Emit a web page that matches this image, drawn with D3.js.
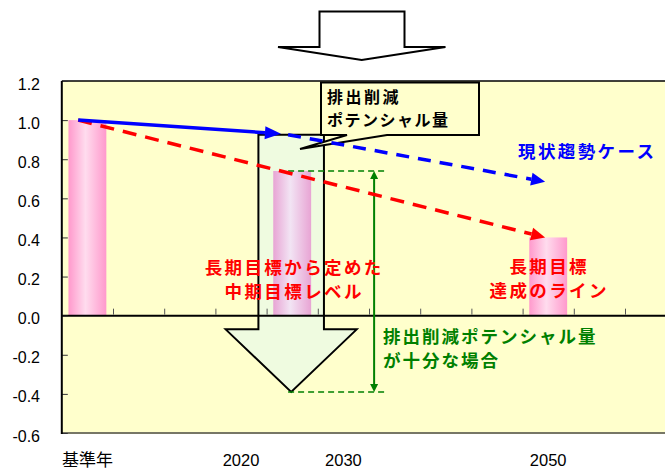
<!DOCTYPE html>
<html><head><meta charset="utf-8">
<script src="https://cdn.jsdelivr.net/npm/d3@7"></script>
<style>body{margin:0;background:#fff}</style>
</head><body><svg id="c" width="665" height="471"></svg>
<script>
// ---- data ----
const slotLabels = ["基準年","","","2020","","2030","","","","2050","",""];
const barSlots = [0, 4, 9];
const barValues = [1.0, 0.74, 0.40];
const yTicks = [-0.6,-0.4,-0.2,0.0,0.2,0.4,0.6,0.8,1.0,1.2];
// 現状趨勢ケース (solid part then dashed part): slot position / value
const trendSolidPos = [0.32, 4.28];
const trendSolidVal = [1.0, 0.93];
const trendDashPos = [4.42, 9.44];
const trendDashVal = [0.925, 0.685];
// 長期目標達成のライン
const targetPos = [0.32, 9.44];
const targetVal = [1.0, 0.40];
// 排出削減ポテンシャル量 arrow
const potentialPos = 4.48;
const potentialTop = 0.925, potentialHeadBase = -0.07, potentialTip = -0.39;
const midTargetVal = 0.74;

const svg = d3.select("#c");
const W = 665, H = 471;
const pLeft = 61.8, pTop = 81, pBottom = 433, slotW = 51.2;
const x = d3.scaleLinear().domain([0, slotLabels.length]).range([pLeft, pLeft + slotLabels.length*slotW]);
const y = d3.scaleLinear().domain([-0.6, 1.2]).range([pBottom, pTop]);

const defs = svg.append("defs");
function grad(id, edge, mid){
  const g = defs.append("linearGradient").attr("id", id).attr("x1","0").attr("x2","1").attr("y1","0").attr("y2","0");
  g.append("stop").attr("offset","0").attr("stop-color", edge);
  g.append("stop").attr("offset","0.45").attr("stop-color", mid);
  g.append("stop").attr("offset","1").attr("stop-color", edge);
}
grad("pink", "#ff99cc", "#ffdcee");
grad("pinkMuted", "#e8a4d4", "#f2e4f4");
defs.append("clipPath").attr("id","clip").append("rect").attr("x",pLeft).attr("y",pTop-2).attr("width",W-pLeft).attr("height",pBottom-pTop+4);

// plot background
svg.append("rect").attr("x",pLeft).attr("y",pTop).attr("width",W-pLeft).attr("height",pBottom-pTop).attr("fill","#ffffcc");

const plot = svg.append("g").attr("clip-path","url(#clip)");

// big potential arrow (under bars)
const sw = 0.64, hw = 1.28;
const ap = [
  [x(potentialPos - sw), y(potentialTop)], [x(potentialPos + sw), y(potentialTop)],
  [x(potentialPos + sw), y(potentialHeadBase)], [x(potentialPos + hw), y(potentialHeadBase)],
  [x(potentialPos), y(potentialTip)], [x(potentialPos - hw), y(potentialHeadBase)],
  [x(potentialPos - sw), y(potentialHeadBase)]
];
plot.append("path").attr("d", "M" + ap.join("L") + "Z")
  .attr("fill","#effbe0").attr("stroke","#000").attr("stroke-width",2).attr("stroke-linejoin","miter");

// bars
const bw = slotW*0.74;
plot.selectAll(".bar").data(barSlots).enter().append("rect")
  .attr("x", (s) => x(s + 0.5) - bw/2)
  .attr("y", (s,i) => y(barValues[i]))
  .attr("width", bw)
  .attr("height", (s,i) => y(0) - y(barValues[i]))
  .attr("fill", (s,i) => i === 1 ? "url(#pinkMuted)" : "url(#pink)");

// zero line + ticks
plot.append("line").attr("x1",pLeft).attr("x2",W).attr("y1",y(0)).attr("y2",y(0)).attr("stroke","#000").attr("stroke-width",2);
const xAxis = d3.axisTop(x).tickValues(d3.range(1, slotLabels.length+1)).tickSize(6).tickFormat("");
const xa = plot.append("g").attr("transform",`translate(0,${y(0)-1})`).call(xAxis);
xa.select(".domain").remove();
xa.selectAll(".tick line").attr("stroke","#555");

// green level markers
const gx1 = x(4.42), gx2 = x(6.32), gvx = x(6.1);
[midTargetVal, potentialTip].forEach(v => {
  plot.append("line").attr("x1",gx1).attr("x2",gx2).attr("y1",y(v)).attr("y2",y(v))
    .attr("stroke","#008000").attr("stroke-width",1.5).attr("stroke-dasharray","6,4");
});
plot.append("line").attr("x1",gvx).attr("x2",gvx).attr("y1",y(midTargetVal)+6).attr("y2",y(potentialTip)-6)
  .attr("stroke","#008000").attr("stroke-width",2);
plot.append("path").attr("d",`M${gvx},${y(midTargetVal)}l-4,8h8z M${gvx},${y(potentialTip)}l-4,-8h8z`).attr("fill","#008000");

// callout box
const cb = {x1:321, x2:479, y1:82.5, y2:135};
svg.append("path").attr("d",`M${cb.x1},${cb.y1}H${cb.x2}V${cb.y2}H387L300,149L347,${cb.y2}H${cb.x1}Z`)
  .attr("fill","#ffffcc").attr("stroke","#000").attr("stroke-width",2);
svg.append("text").attr("x",327).attr("y",103).text("排出削減")
  .attr("font-family","'Noto Sans CJK JP'").attr("font-weight","bold").attr("font-size",16).attr("letter-spacing",2.5).attr("fill","#000");
svg.append("text").attr("x",327).attr("y",126).text("ポテンシャル量")
  .attr("font-family","'Noto Sans CJK JP'").attr("font-weight","bold").attr("font-size",16).attr("letter-spacing",1.5).attr("fill","#000");

// arrow lines
function arrowLine(pos, val, color, dash, headL, headW){
  const p = pos.map((s,i) => [x(s), y(val[i])]);
  const [a, b] = [p[0], p[p.length-1]];
  const dx = b[0]-a[0], dy = b[1]-a[1], len = Math.hypot(dx, dy);
  const ux = dx/len, uy = dy/len;
  const e = [b[0]-ux*headL, b[1]-uy*headL];
  const ln = svg.append("line").attr("x1",a[0]).attr("y1",a[1]).attr("x2",e[0]).attr("y2",e[1])
    .attr("stroke",color).attr("stroke-width",3.5);
  if (dash) ln.attr("stroke-dasharray", dash);
  const px = -uy, py = ux;
  svg.append("path").attr("d",`M${b[0]},${b[1]}L${e[0]+px*headW},${e[1]+py*headW}L${e[0]-px*headW},${e[1]-py*headW}Z`).attr("fill",color);
}
arrowLine(targetPos, targetVal, "#ff0000", "14,9", 14, 6.5);
arrowLine(trendDashPos, trendDashVal, "#0000ff", "13,9", 14, 6.5);
arrowLine(trendSolidPos, trendSolidVal, "#0000ff", null, 16, 6.5);

// frame
svg.append("line").attr("x1",pLeft).attr("x2",W).attr("y1",pTop).attr("y2",pTop).attr("stroke","#000").attr("stroke-width",1.5);
svg.append("line").attr("x1",pLeft).attr("x2",W).attr("y1",pBottom).attr("y2",pBottom).attr("stroke","#777766").attr("stroke-width",2);

// y axis
const yAxis = d3.axisRight(y).tickValues(yTicks).tickSize(6).tickFormat("");
const ya = svg.append("g").attr("transform",`translate(${pLeft},0)`).call(yAxis);
ya.select(".domain").remove();
ya.selectAll(".tick line").attr("stroke","#333");
svg.append("line").attr("x1",pLeft).attr("x2",pLeft).attr("y1",pTop).attr("y2",pBottom+1).attr("stroke","#000").attr("stroke-width",2);
svg.selectAll(".ylab").data(yTicks).enter().append("text")
  .attr("x",40).attr("y",d => y(d)+3).attr("dy","0.35em").attr("text-anchor","end")
  .attr("font-family","'Liberation Sans', Arial, sans-serif").attr("font-size",16).attr("fill","#000")
  .text(d => d3.format(".1f")(d).replace("−","-"));

// x labels
svg.selectAll(".xlab").data(slotLabels.map((l,i)=>({l,i})).filter(d=>d.l)).enter().append("text")
  .attr("x", d => x(d.i+0.5)).attr("y", 466).attr("text-anchor","middle")
  .attr("font-family", d => /^\d+$/.test(d.l) ? "'Liberation Sans', Arial, sans-serif" : "'Noto Sans CJK JP'")
  .attr("font-size", d => /^\d+$/.test(d.l) ? 16.5 : 17).attr("fill","#000")
  .text(d => d.l);

// top hollow arrow
svg.append("path").attr("d","M319.5,11.5H404.5V47H445.5L361.7,60L278,47H319.5Z")
  .attr("fill","#fff").attr("stroke","#000").attr("stroke-width",2);

// annotations
function label(lines, cx, cy, color, anchor, ls){
  lines.forEach((t,i) => {
    svg.append("text").attr("x", cx + (anchor==="middle" ? ls/2 : 0)).attr("y", cy + i*23.5)
      .attr("text-anchor", anchor).attr("letter-spacing", ls)
      .attr("font-family","'Noto Sans CJK JP'").attr("font-weight","bold").attr("font-size",17.5)
      .attr("fill", color).text(t);
  });
}
label(["長期目標から定めた","中期目標レベル"], 293, 274, "#ff0000", "middle", 2.4);
label(["長期目標","達成のライン"], 548, 273, "#ff0000", "middle", 2.4);
label(["現状趨勢ケース"], 518, 158, "#0000ff", "start", 2.4);
label(["排出削減ポテンシャル量","が十分な場合"], 383, 343, "#008000", "start", 2.0);
</script></body></html>
